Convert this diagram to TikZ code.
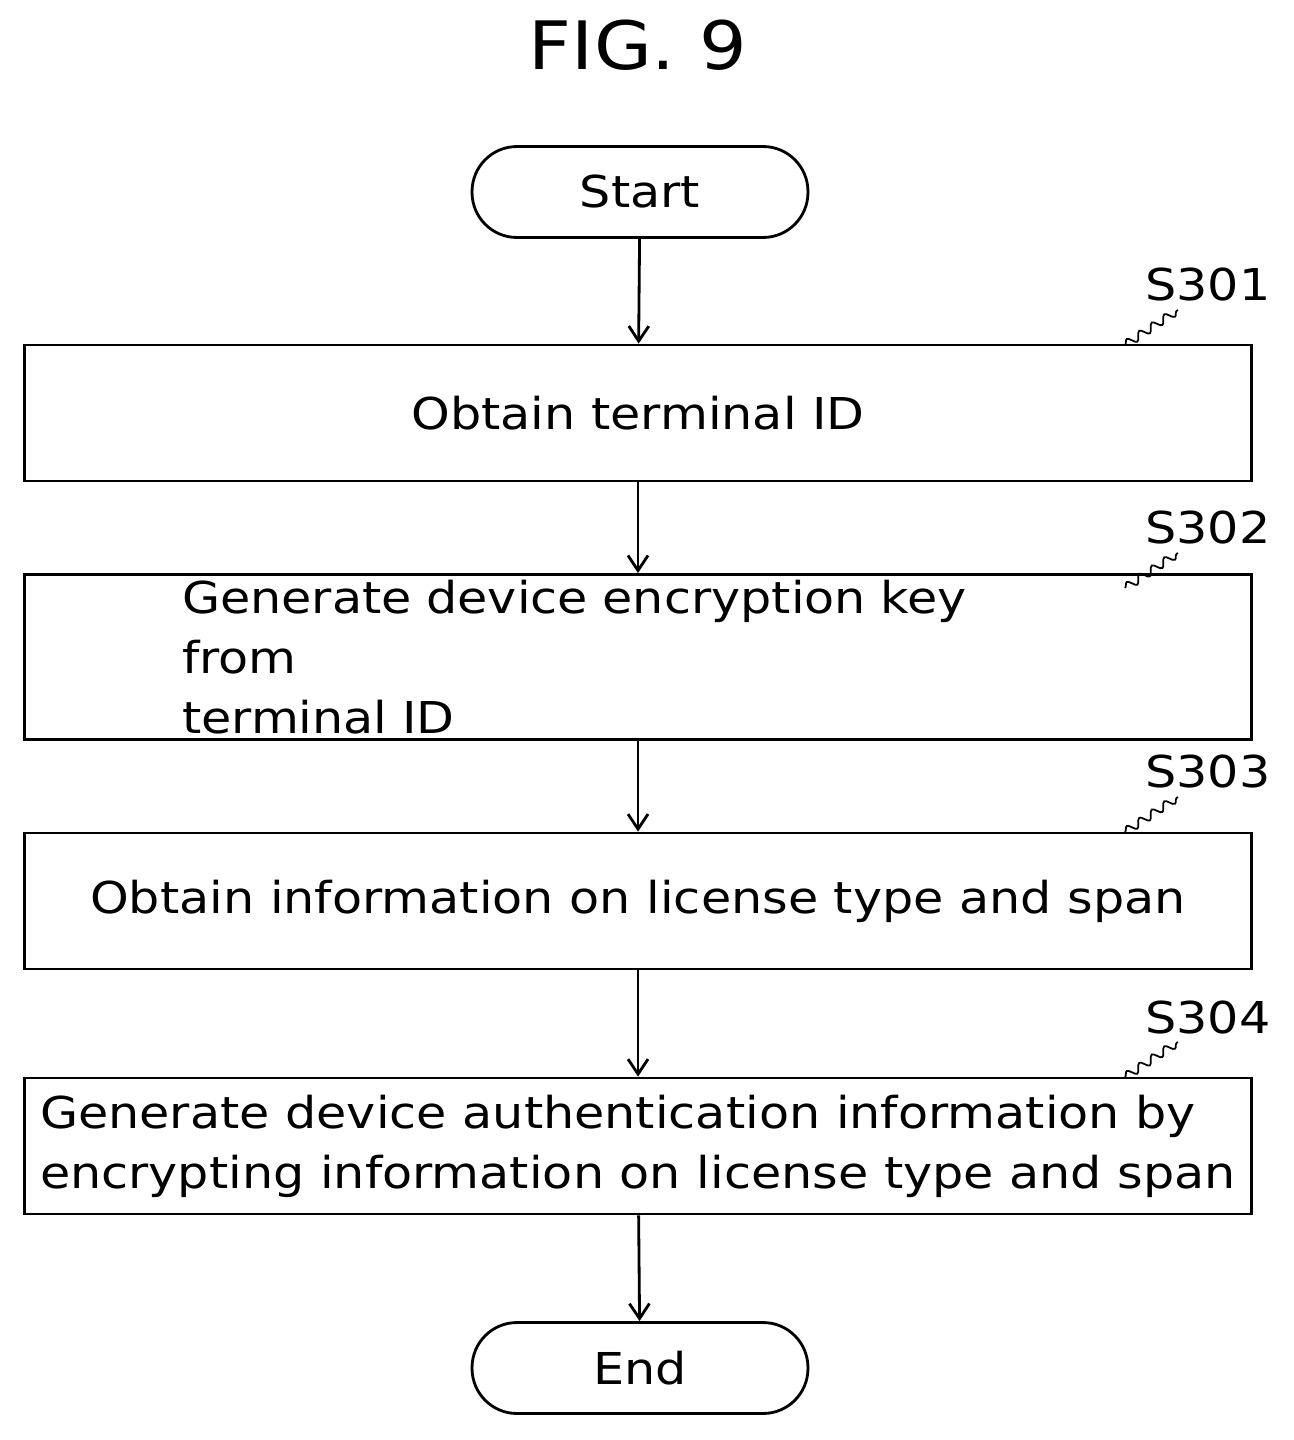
\documentclass[tikz,border=0pt]{standalone}
\usepackage{fontspec}
\setmainfont{DejaVu Sans}[FakeStretch=1.12]
\usetikzlibrary{positioning,decorations.pathmorphing,arrows.meta}

\tikzset{
  box/.style={draw,line width=1.6pt,minimum width=24.54cm,minimum height=2.72cm,font=\fontsize{25}{34}\selectfont},
  term/.style={draw,line width=1.6pt,rounded corners=0.9cm,minimum width=6.72cm,minimum height=1.82cm,font=\fontsize{25}{30}\selectfont},
  flow/.style={->,line width=1.6pt,>={Straight Barb[length=0.3cm,width=0.4cm]}},
  tag/.style={font=\fontsize{25}{30}\selectfont},
  wave/.style={line width=1pt,decorate,decoration={snake,amplitude=0.8mm,segment length=3mm}}
}

\begin{document}
\begin{tikzpicture}[x=0.02cm,y=-0.02cm]
    \useasboundingbox (0,0) rectangle (1294,1440);

    % title
    \node[font=\fontsize{38}{42}\selectfont] (title) at (638,45) {FIG. 9};

    % terminals
    \node[term] (start) at (640,192) {Start};
    \node[term] (end) at (640,1368) {End};

    % steps
    \node[box] (s1) at (638,413) {Obtain terminal ID};
    \node[box,text width=18.24cm,align=left] (s2) at (638,657) {Generate device encryption key from\\terminal ID};
    \node[box] (s3) at (638,901) {Obtain information on license type and span};
    \node[box,align=left] (s4) at (638,1146) {Generate device authentication information by\\encrypting information on license type and span};

    % step labels
    \foreach \n/\t/\y in {s1/S301/285, s2/S302/528, s3/S303/772, s4/S304/1017} {
        \node[tag] (l\n) at (1208,\y) {\t};
        \draw[wave] (1125,\y+60) -- (1178,\y+25);
    }

    % connectors
    \draw[flow] (start) -- (s1);
    \draw[flow] (s1) -- (s2);
    \draw[flow] (s2) -- (s3);
    \draw[flow] (s3) -- (s4);
    \draw[flow] (s4) -- (end);
\end{tikzpicture}
\end{document}
